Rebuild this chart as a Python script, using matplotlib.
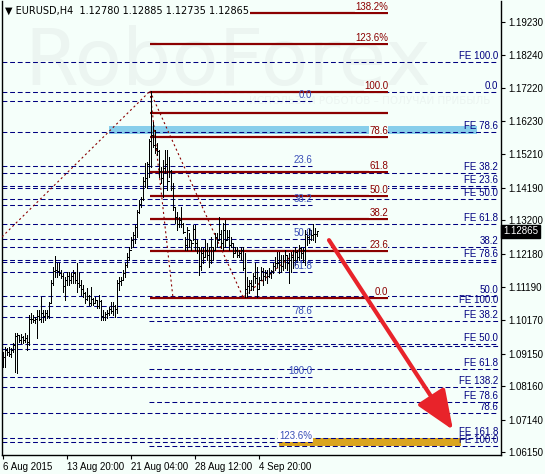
import numpy as np
import matplotlib
matplotlib.use("Agg")
import matplotlib.pyplot as plt
import matplotlib.transforms as mtransforms

plt.rcParams['font.family'] = ['Liberation Sans', 'DejaVu Sans']
plt.rcParams['lines.scale_dashes'] = False

# ---- H4 bars, EURUSD ----
HIGH = [
    1.0920, 1.0935, 1.0932, 1.0935, 1.0932, 1.0947, 1.0978, 1.0978, 1.0972, 1.0975,
    1.0969, 1.0978, 1.0972, 1.1032, 1.1038, 1.1032, 1.1026, 1.1048, 1.1048, 1.1087,
    1.1048, 1.1048, 1.1048, 1.1072, 1.1139, 1.1178, 1.1212, 1.1190, 1.1190, 1.1169,
    1.1160, 1.1148, 1.1163, 1.1163, 1.1160, 1.1169, 1.1163, 1.1190, 1.1160, 1.1139,
    1.1124, 1.1102, 1.1114, 1.1093, 1.1118, 1.1084, 1.1087, 1.1078, 1.1093, 1.1078,
    1.1048, 1.1042, 1.1048, 1.1057, 1.1072, 1.1072, 1.1063, 1.1139, 1.1148, 1.1148,
    1.1169, 1.1190, 1.1221, 1.1239, 1.1270, 1.1285, 1.1306, 1.1352, 1.1382, 1.1391,
    1.1452, 1.1494, 1.1497, 1.1567, 1.1713, 1.1619, 1.1595, 1.1555, 1.1534, 1.1482,
    1.1504, 1.1534, 1.1534, 1.1513, 1.1473, 1.1434, 1.1361, 1.1346, 1.1330, 1.1361,
    1.1312, 1.1270, 1.1300, 1.1282, 1.1260, 1.1306, 1.1306, 1.1260, 1.1239, 1.1239,
    1.1236, 1.1260, 1.1251, 1.1239, 1.1270, 1.1239, 1.1282, 1.1282, 1.1330, 1.1291,
    1.1312, 1.1321, 1.1291, 1.1291, 1.1270, 1.1251, 1.1239, 1.1239, 1.1230, 1.1239,
    1.1239, 1.1221, 1.1148, 1.1139, 1.1139, 1.1160, 1.1190, 1.1178, 1.1148, 1.1178,
    1.1175, 1.1169, 1.1169, 1.1175, 1.1169, 1.1190, 1.1209, 1.1224, 1.1224, 1.1215,
    1.1215, 1.1230, 1.1215, 1.1221, 1.1224, 1.1230, 1.1239, 1.1230, 1.1245, 1.1239,
    1.1236, 1.1291, 1.1285, 1.1297, 1.1291, 1.1309, 1.1297, 1.12885]
LOW = [
    1.0874, 1.0874, 1.0911, 1.0908, 1.0905, 1.0920, 1.0859, 1.0856, 1.0950, 1.0947,
    1.0947, 1.0950, 1.0926, 1.0941, 1.1008, 1.1011, 1.1008, 1.0963, 1.1017, 1.1011,
    1.1011, 1.1017, 1.1023, 1.1023, 1.1069, 1.1124, 1.1148, 1.1148, 1.1154, 1.1145,
    1.1102, 1.1078, 1.1124, 1.1124, 1.1130, 1.1130, 1.1130, 1.1102, 1.1118, 1.1093,
    1.1087, 1.1069, 1.1078, 1.1063, 1.1063, 1.1063, 1.1072, 1.1054, 1.1054, 1.1017,
    1.1017, 1.1017, 1.1023, 1.1032, 1.1038, 1.1032, 1.1026, 1.1038, 1.1108, 1.1124,
    1.1139, 1.1148, 1.1178, 1.1200, 1.1236, 1.1239, 1.1251, 1.1270, 1.1342, 1.1361,
    1.1382, 1.1422, 1.1418, 1.1452, 1.1482, 1.1543, 1.1525, 1.1519, 1.1452, 1.1434,
    1.1391, 1.1464, 1.1412, 1.1452, 1.1412, 1.1352, 1.1312, 1.1291, 1.1300, 1.1300,
    1.1282, 1.1230, 1.1230, 1.1239, 1.1230, 1.1260, 1.1230, 1.1221, 1.1154, 1.1169,
    1.1190, 1.1209, 1.1200, 1.1178, 1.1190, 1.1200, 1.1230, 1.1239, 1.1260, 1.1236,
    1.1230, 1.1239, 1.1260, 1.1230, 1.1239, 1.1209, 1.1221, 1.1209, 1.1209, 1.1200,
    1.1169, 1.1087, 1.1087, 1.1099, 1.1108, 1.1108, 1.1130, 1.1087, 1.1114, 1.1139,
    1.1124, 1.1139, 1.1130, 1.1148, 1.1145, 1.1160, 1.1169, 1.1178, 1.1160, 1.1163,
    1.1169, 1.1175, 1.1169, 1.1130, 1.1163, 1.1175, 1.1184, 1.1193, 1.1200, 1.1206,
    1.1193, 1.1184, 1.1245, 1.1251, 1.1260, 1.1260, 1.1254, 1.12735]
CLOSE = [
    1.0905, 1.0926, 1.0920, 1.0914, 1.0926, 1.0941, 1.0969, 1.0972, 1.0956, 1.0965,
    1.0956, 1.0963, 1.0950, 1.1020, 1.1020, 1.1017, 1.1020, 1.1030, 1.1020, 1.1040,
    1.1030, 1.1040, 1.1030, 1.1069, 1.1130, 1.1165, 1.1170, 1.1165, 1.1160, 1.1150,
    1.1120, 1.1140, 1.1150, 1.1140, 1.1150, 1.1160, 1.1140, 1.1130, 1.1125, 1.1110,
    1.1100, 1.1080, 1.1090, 1.1070, 1.1080, 1.1070, 1.1078, 1.1060, 1.1075, 1.1030,
    1.1025, 1.1035, 1.1040, 1.1050, 1.1045, 1.1060, 1.1050, 1.1130, 1.1135, 1.1140,
    1.1160, 1.1185, 1.1210, 1.1230, 1.1260, 1.1275, 1.1300, 1.1345, 1.1370, 1.1385,
    1.1440, 1.1450, 1.1490, 1.1560, 1.1580, 1.1550, 1.1540, 1.1530, 1.1470, 1.1450,
    1.1480, 1.1490, 1.1440, 1.1470, 1.1420, 1.1360, 1.1330, 1.1310, 1.1320, 1.1310,
    1.1285, 1.1245, 1.1290, 1.1260, 1.1250, 1.1295, 1.1250, 1.1240, 1.1180, 1.1220,
    1.1210, 1.1230, 1.1215, 1.1200, 1.1240, 1.1230, 1.1270, 1.1260, 1.1280, 1.1250,
    1.1290, 1.1260, 1.1270, 1.1245, 1.1250, 1.1220, 1.1230, 1.1215, 1.1220, 1.1230,
    1.1175, 1.1110, 1.1120, 1.1130, 1.1120, 1.1150, 1.1145, 1.1110, 1.1140, 1.1165,
    1.1150, 1.1160, 1.1150, 1.1160, 1.1165, 1.1180, 1.1190, 1.1190, 1.1200, 1.1180,
    1.1200, 1.1215, 1.1190, 1.1200, 1.1210, 1.1200, 1.1225, 1.1210, 1.1235, 1.1220,
    1.1230, 1.1280, 1.1270, 1.1290, 1.1275, 1.1280, 1.12780, 1.12865]
FIRST_OPEN = 1.0915

# ---- price axis / time axis ----
PRICE_TICKS = [1.19230, 1.18240, 1.17220, 1.16230, 1.15210, 1.14190, 1.13200,
               1.12180, 1.11190, 1.10170, 1.09150, 1.08160, 1.07140, 1.06150]
DATE_BARS = [0, 32, 64, 96, 128]
DATE_LABELS = ["6 Aug 2015", "13 Aug 20:00", "21 Aug 04:00", "28 Aug 12:00", "4 Sep 20:00"]
TITLE = "\u25bc EURUSD,H4  1.12780 1.12885 1.12735 1.12865"

# ---- fibo levels ----
# solid dark red retracement
RED_LEVELS = [1.1950, 1.1856, 1.1710, 1.1646, 1.1574, 1.1467, 1.1394, 1.1324, 1.1227, 1.1084]
RED_LABELS = ["138.2%", "123.6%", "100.0", "", "78.6", "61.8", "50.0", "38.2", "23.6", "0.0"]
# dashed levels over the whole chart
FULL_LEVELS = [1.1802, 1.1710, 1.1589, 1.1464, 1.1425, 1.1418, 1.1385, 1.1309, 1.1239,
               1.1200, 1.1193, 1.1090, 1.1060, 1.0944, 1.0814, 1.0734, 1.0658]
FULL_LABELS = ["FE 100.0", "0.0", "FE 78.6", "FE 38.2", "FE 23.6", "", "FE 50.0", "FE 61.8",
               "38.2", "FE 78.6", "", "50.0", "FE 100.0", "FE 50.0", "FE 138.2", "78.6", "FE 161.8"]
# dashed levels starting at the peak bar
MID_LEVELS = [1.1014, 1.0938, 1.0868, 1.0768, 1.0634]
MID_LABELS = ["FE 38.2", "", "FE 61.8", "FE 78.6", "FE 100.0"]
# short dashed retracement
SHORT_LEVELS = [1.1683, 1.1485, 1.1367, 1.1263, 1.1163, 1.1026, 1.0929, 1.0844, 1.0646]
SHORT_LABELS = ["0.0", "23.6", "38.2", "50.0", "61.8", "78.6", "", "100.0", "123.6%"]

# fibo anchor lines (bar, price)
ANCHOR_X = [(-0.5, 73.5), (73.5, 85), (73.5, 120), (120, 149)]
ANCHOR_Y = [(1.1270, 1.1713), (1.1713, 1.1084), (1.1713, 1.1087), (1.1087, 1.1236)]

# zones and forecast arrow
BLUE_ZONE = (53, 237, 1.1583, 1.1607)
GOLD_ZONE = (138, 229, 1.0634, 1.0658)
ARROW_FROM = (163, 1.1260)
ARROW_TO = (225, 1.0683)

BG = '#f5fffa'
NAVY = '#000080'
DARKRED = '#8b0000'

fig = plt.figure(figsize=(5.45, 4.74), dpi=100)
fig.patch.set_facecolor(BG)
ax = fig.add_axes([2 / 545, 19 / 474, 499 / 545, 454 / 474])
ax.set_facecolor(BG)
ax.set_xlim(-0.5, 249)
ax.set_ylim(1.06068, 1.1987)

# watermark (very faint)
ax.text(0.045, 0.815, "RoboForex", transform=ax.transAxes, fontsize=56,
        color='#ecf5f1', family='DejaVu Sans', zorder=0)
ax.text(0.978, 0.773, "ИСПОЛЬЗУЙ РОБОТОВ – ПОЛУЧАЙ ПРИБЫЛЬ", transform=ax.transAxes,
        fontsize=7.5, color='#ecf5f1', ha='right', family='DejaVu Sans', zorder=0)

# zones
ax.fill_between([BLUE_ZONE[0], BLUE_ZONE[1]], BLUE_ZONE[2], BLUE_ZONE[3],
                color='#87ceeb', lw=0, zorder=1)
ax.fill_between([GOLD_ZONE[0], GOLD_ZONE[1]], GOLD_ZONE[2], GOLD_ZONE[3],
                color='#daa520', lw=0, zorder=1)

dash = [(0, (3.5, 2.0))]
ax.hlines(FULL_LEVELS, -0.5, 247.5, colors=NAVY, lw=0.75, linestyles=dash, zorder=2)
ax.hlines(MID_LEVELS, 73, 247.5, colors=NAVY, lw=0.75, linestyles=dash, zorder=2)
ax.hlines(SHORT_LEVELS, -0.5, 154.5, colors=NAVY, lw=0.75, linestyles=dash, zorder=2)
ax.hlines(RED_LEVELS, 73.5, 192.5, colors=DARKRED, lw=1.6, zorder=3)

for xs, ys in zip(ANCHOR_X, ANCHOR_Y):
    ax.plot(xs, ys, color=DARKRED, lw=0.8, ls=(0, (1.5, 2.0)), zorder=3)

# OHLC bars
x = np.arange(len(HIGH))
opens = np.r_[FIRST_OPEN, CLOSE[:-1]]
ax.vlines(x, LOW, HIGH, colors='black', lw=0.7, antialiased=False, zorder=4)
ax.hlines(opens, x - 0.4, x, colors='black', lw=0.6, antialiased=False, zorder=4)
ax.hlines(CLOSE, x, x + 0.4, colors='black', lw=0.6, antialiased=False, zorder=4)

# level labels
up = mtransforms.offset_copy(ax.transData, fig=fig, x=0, y=1, units='dots')
for lv, lb in zip(RED_LEVELS, RED_LABELS):
    if lb:
        ax.text(192.5, lv, lb, transform=up, ha='right', va='bottom', fontsize=7,
                color=DARKRED, zorder=6,
                bbox=dict(facecolor=BG, edgecolor='none', pad=0))
for lv, lb in zip(FULL_LEVELS, FULL_LABELS):
    if lb:
        ax.text(247.5, lv, lb, transform=up, ha='right', va='bottom', fontsize=7,
                color=NAVY, zorder=6)
for lv, lb in zip(MID_LEVELS, MID_LABELS):
    if lb:
        ax.text(247.5, lv, lb, transform=up, ha='right', va='bottom', fontsize=7,
                color=NAVY, zorder=6)
for lv, lb in zip(SHORT_LEVELS, SHORT_LABELS):
    if lb:
        box = dict(facecolor='white', edgecolor='none', pad=0.5) if '%' in lb else None
        ax.text(154.5, lv, lb, transform=up, ha='right', va='bottom', fontsize=7,
                color='#3a4fb8', zorder=6, bbox=box)

# forecast arrow
ax.annotate('', xy=ARROW_TO, xytext=ARROW_FROM, zorder=5,
            arrowprops=dict(arrowstyle='-|>,head_length=1.1,head_width=0.45',
                            color='#e8232a', lw=3.0, mutation_scale=22,
                            shrinkA=0, shrinkB=0))

# title
ax.text(0.006, 0.979, TITLE, transform=ax.transAxes, fontsize=7, va='center',
        ha='left', zorder=7, family=['DejaVu Sans'],
        bbox=dict(facecolor=BG, edgecolor='none', pad=0.5))

# axes
ax.yaxis.tick_right()
ax.set_yticks(PRICE_TICKS)
ax.set_yticklabels(["%.5f" % t for t in PRICE_TICKS], fontsize=7)
ax.set_xticks(DATE_BARS)
ax.set_xticklabels(DATE_LABELS, fontsize=7, ha='left')
ax.tick_params(axis='both', length=3, width=0.8, color='black', pad=2)
ax.spines['top'].set_visible(False)
for s in ['left', 'right', 'bottom']:
    ax.spines[s].set_linewidth(1.0)

# last price marker
ax.text(1.004, CLOSE[-1], "%.5f" % CLOSE[-1], transform=ax.get_yaxis_transform(),
        fontsize=7, color='white', va='center', ha='left', zorder=8, clip_on=False,
        bbox=dict(facecolor='black', edgecolor='black', pad=1.2))

fig.savefig('out.png', dpi=100, facecolor=BG)
